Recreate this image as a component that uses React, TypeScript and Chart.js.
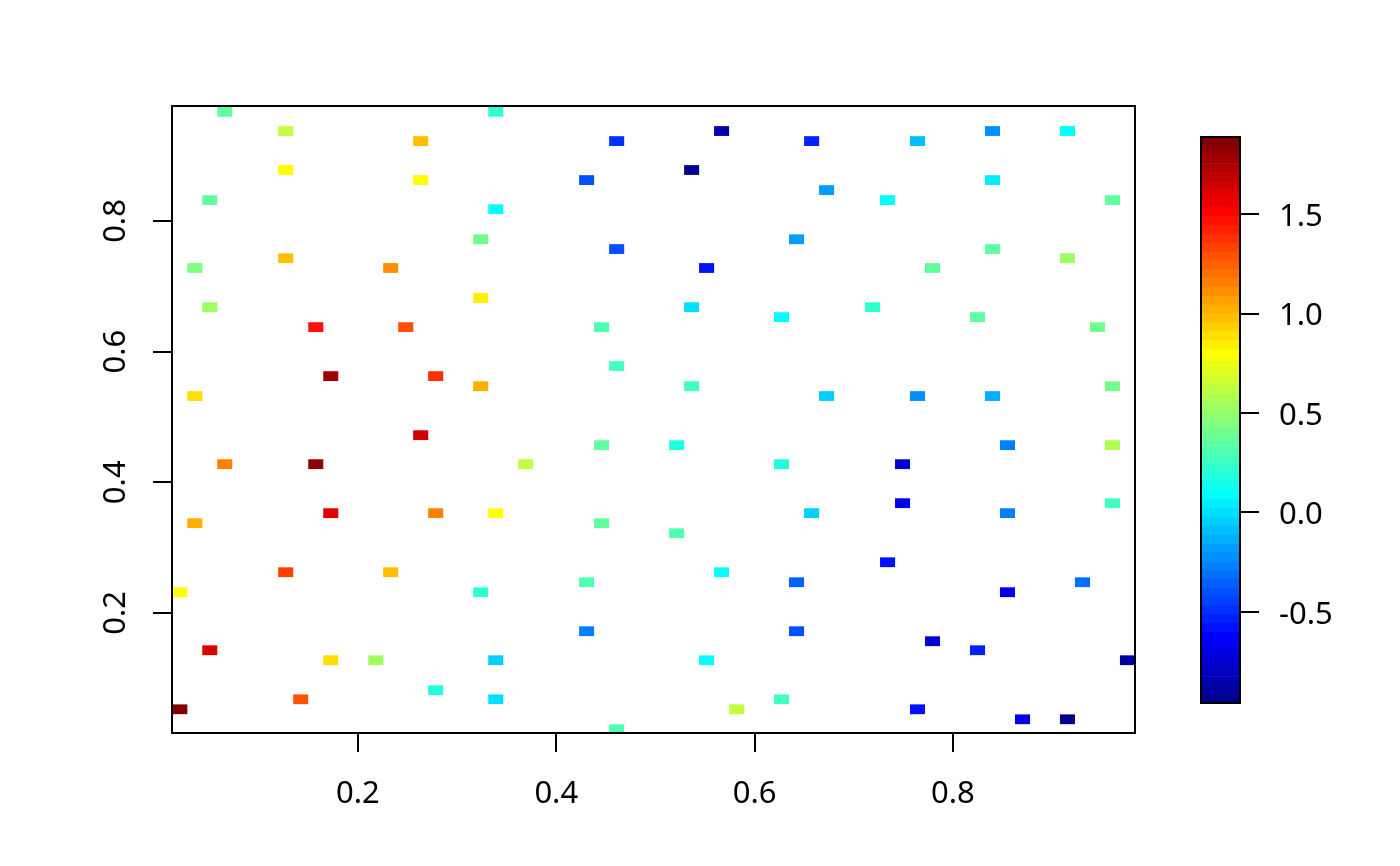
import { useEffect, useRef } from "react"
import { Chart, registerables } from "chart.js"

Chart.register(...registerables)

// grid-cell centres (64 x 64 quilt grid)
const xs = [
  0.0657, 0.1272, 0.2633, 0.1272, 0.2633, 0.0506, 0.339, 0.3238, 0.1272, 0.0355,
  0.233, 0.3238, 0.0506, 0.1575, 0.2482, 0.1726, 0.2784, 0.3238, 0.0355,
  0.339, 0.5667, 0.4609, 0.6575, 0.5365, 0.4306, 0.6423, 0.4609, 0.5516, 0.5365,
  0.6272, 0.4457, 0.4609, 0.5365,
  0.8399, 0.9155, 0.7643, 0.8399, 0.6726, 0.7341, 0.9609, 0.8399, 0.9155, 0.7794,
  0.719, 0.8248, 0.9458, 0.9609, 0.6726, 0.7643, 0.8399,
  0.2633, 0.0657, 0.1575, 0.1726, 0.2784, 0.339, 0.0355, 0.1272, 0.233, 0.0204,
  0.3238, 0.0506, 0.1726, 0.218, 0.339, 0.2784, 0.1423, 0.339, 0.0204,
  0.4457, 0.5214, 0.3692, 0.6272, 0.6575, 0.4457, 0.5214, 0.5667, 0.4306, 0.6423,
  0.4306, 0.6423, 0.5516, 0.6272, 0.5819, 0.4609,
  0.855, 0.9609, 0.7492, 0.7492, 0.9609, 0.855, 0.7341, 0.9307, 0.855, 0.7794,
  0.8248, 0.976, 0.7643, 0.8702, 0.9155,
]

const ys = [
  0.967, 0.9377, 0.9223, 0.878, 0.8626, 0.832, 0.818, 0.772, 0.743, 0.728,
  0.728, 0.682, 0.668, 0.6375, 0.6375, 0.5625, 0.5625, 0.547, 0.532,
  0.967, 0.9377, 0.9223, 0.9223, 0.878, 0.8626, 0.772, 0.757, 0.728, 0.668,
  0.6528, 0.6375, 0.578, 0.547,
  0.9377, 0.9377, 0.9223, 0.8626, 0.8473, 0.832, 0.832, 0.757, 0.743, 0.728,
  0.668, 0.6528, 0.6375, 0.547, 0.532, 0.532, 0.532,
  0.4721, 0.4277, 0.4277, 0.3527, 0.3527, 0.3527, 0.3374, 0.2623, 0.2623, 0.2317,
  0.2317, 0.1429, 0.1276, 0.1276, 0.1276, 0.0816, 0.0678, 0.0678, 0.0525,
  0.4568, 0.4568, 0.4277, 0.4277, 0.3527, 0.3374, 0.322, 0.2623, 0.247, 0.247,
  0.172, 0.172, 0.1276, 0.0678, 0.0525, 0.0219,
  0.4568, 0.4568, 0.4277, 0.368, 0.368, 0.3527, 0.2776, 0.247, 0.2317, 0.1567,
  0.1429, 0.1276, 0.0525, 0.0372, 0.0372,
]

const zs = [
  0.35, 0.62, 0.98, 0.8, 0.8, 0.35, 0.09, 0.4, 0.98, 0.44,
  1.11, 0.84, 0.53, 1.47, 1.29, 1.78, 1.38, 1.02, 0.89,
  0.22, -0.85, -0.49, -0.54, -0.958, -0.4, -0.18, -0.4, -0.58, 0.0,
  0.09, 0.31, 0.26, 0.26,
  -0.22, 0.09, -0.09, 0.04, -0.18, 0.09, 0.35, 0.35, 0.53, 0.35,
  0.22, 0.35, 0.4, 0.4, -0.05, -0.22, -0.14,
  1.64, 1.15, 1.82, 1.6, 1.15, 0.8, 1.02, 1.33, 0.98, 0.8,
  0.22, 1.6, 0.89, 0.53, -0.05, 0.18, 1.29, 0.0, 1.888,
  0.35, 0.18, 0.62, 0.18, -0.05, 0.35, 0.31, 0.09, 0.31, -0.36,
  -0.27, -0.4, 0.09, 0.26, 0.62, 0.31,
  -0.27, 0.58, -0.76, -0.67, 0.26, -0.27, -0.58, -0.31, -0.67, -0.76,
  -0.54, -0.89, -0.58, -0.67, -0.93,
]

const xTicks = [0.2, 0.4, 0.6, 0.8]
const yTicks = [0.2, 0.4, 0.6, 0.8]
const barTicks = [-0.5, 0, 0.5, 1, 1.5]

const timColors = [
  "#00008F", "#00009F", "#0000AF", "#0000BF", "#0000CF", "#0000DF", "#0000EF", "#0000FF",
  "#0010FF", "#0020FF", "#0030FF", "#0040FF", "#0050FF", "#0060FF", "#0070FF", "#0080FF",
  "#008FFF", "#009FFF", "#00AFFF", "#00BFFF", "#00CFFF", "#00DFFF", "#00EFFF", "#00FFFF",
  "#10FFEF", "#20FFDF", "#30FFCF", "#40FFBF", "#50FFAF", "#60FF9F", "#70FF8F", "#80FF80",
  "#8FFF70", "#9FFF60", "#AFFF50", "#BFFF40", "#CFFF30", "#DFFF20", "#EFFF10", "#FFFF00",
  "#FFEF00", "#FFDF00", "#FFCF00", "#FFBF00", "#FFAF00", "#FF9F00", "#FF8F00", "#FF8000",
  "#FF7000", "#FF6000", "#FF5000", "#FF4000", "#FF3000", "#FF2000", "#FF1000", "#FF0000",
  "#EF0000", "#DF0000", "#CF0000", "#BF0000", "#AF0000", "#9F0000", "#8F0000", "#800000",
]

const X_MIN = 0.0125
const X_MAX = 0.9836
const Y_MIN = 0.0162
const Y_MAX = 0.976
const CELL_W = (X_MAX - X_MIN) / 64
const CELL_H = (Y_MAX - Y_MIN) / 64

const Z_MIN = Math.min(...zs)
const Z_MAX = Math.max(...zs)

const FONT = { family: "'Noto Sans', sans-serif", size: 31 }

function colorFor(z: number) {
  const i = Math.floor(((z - Z_MIN) / (Z_MAX - Z_MIN)) * timColors.length)
  return timColors[Math.max(0, Math.min(timColors.length - 1, i))]
}

const quiltPlugin = {
  id: "quilt",
  afterDatasetsDraw(chart: any) {
    const { ctx, chartArea, scales } = chart
    const w = Math.abs(scales.x.getPixelForValue(X_MIN + CELL_W) - scales.x.getPixelForValue(X_MIN))
    const h = Math.abs(scales.y.getPixelForValue(Y_MIN + CELL_H) - scales.y.getPixelForValue(Y_MIN))
    const meta = chart.getDatasetMeta(0)
    ctx.save()
    ctx.beginPath()
    ctx.rect(chartArea.left, chartArea.top, chartArea.right - chartArea.left, chartArea.bottom - chartArea.top)
    ctx.clip()
    meta.data.forEach((pt: any, i: number) => {
      ctx.fillStyle = colorFor(zs[i])
      ctx.fillRect(pt.x - w / 2, pt.y - h / 2, w, h)
    })
    ctx.restore()
  },
  afterDraw(chart: any) {
    const { ctx, chartArea, scales } = chart
    ctx.save()
    ctx.strokeStyle = "#000"
    ctx.lineWidth = 2
    ctx.strokeRect(chartArea.left, chartArea.top, chartArea.right - chartArea.left, chartArea.bottom - chartArea.top)
    // R-style y labels, rotated to read upwards
    ctx.fillStyle = "#000"
    ctx.font = `${FONT.size}px ${FONT.family}`
    ctx.textAlign = "center"
    ctx.textBaseline = "middle"
    scales.y.ticks.forEach((t: any) => {
      const py = scales.y.getPixelForValue(t.value)
      ctx.save()
      ctx.translate(116, py)
      ctx.rotate(-Math.PI / 2)
      ctx.fillText(t.value.toFixed(1), 0, 0)
      ctx.restore()
    })
    ctx.restore()
  },
}

const boxPlugin = {
  id: "box",
  afterDraw(chart: any) {
    const { ctx, chartArea } = chart
    ctx.save()
    ctx.strokeStyle = "#000"
    ctx.lineWidth = 2
    ctx.strokeRect(chartArea.left, chartArea.top, chartArea.right - chartArea.left, chartArea.bottom - chartArea.top)
    ctx.restore()
  },
}

export default function App() {
  const plotRef = useRef<HTMLCanvasElement>(null)
  const barRef = useRef<HTMLCanvasElement>(null)

  useEffect(() => {
    if (!plotRef.current || !barRef.current) return

    const plot = new Chart(plotRef.current, {
      type: "scatter",
      data: {
        datasets: [
          {
            data: xs.map((x, i) => ({ x, y: ys[i] })),
            pointRadius: 0,
            pointHoverRadius: 0,
          },
        ],
      },
      options: {
        animation: false,
        responsive: false,
        devicePixelRatio: 1,
        events: [],
        layout: { padding: { left: 0, top: 106, right: 265, bottom: 0 } },
        plugins: { legend: { display: false }, tooltip: { enabled: false } },
        scales: {
          x: {
            type: "linear",
            min: X_MIN,
            max: X_MAX,
            afterBuildTicks: (s: any) => {
              s.ticks = xTicks.map((v) => ({ value: v }))
            },
            afterFit: (s: any) => {
              s.height = 133
            },
            ticks: {
              font: FONT,
              color: "#000",
              padding: 24,
              maxRotation: 0,
              callback: (v: any) => Number(v).toFixed(1),
            },
            grid: { drawOnChartArea: false, tickLength: 19, lineWidth: 2, color: "#000" },
            border: { display: true, color: "#000", width: 2 },
          },
          y: {
            type: "linear",
            min: Y_MIN,
            max: Y_MAX,
            afterBuildTicks: (s: any) => {
              s.ticks = yTicks.map((v) => ({ value: v }))
            },
            afterFit: (s: any) => {
              s.width = 172
            },
            ticks: { display: false },
            grid: { drawOnChartArea: false, tickLength: 19, lineWidth: 2, color: "#000" },
            border: { display: true, color: "#000", width: 2 },
          },
        },
      },
      plugins: [quiltPlugin],
    })

    const nBins = timColors.length
    const binW = (Z_MAX - Z_MIN) / nBins
    const bar = new Chart(barRef.current, {
      type: "bar",
      data: {
        labels: [""],
        datasets: timColors.map((c, i) => ({
          data: [[Z_MIN + i * binW, Z_MIN + (i + 1) * binW]] as any,
          backgroundColor: c,
          borderWidth: 0,
          barPercentage: 1,
          categoryPercentage: 1,
          grouped: false,
        })),
      },
      options: {
        animation: false,
        responsive: false,
        devicePixelRatio: 1,
        events: [],
        layout: { padding: { left: 1201, top: 137, right: 0, bottom: 163 } },
        plugins: { legend: { display: false }, tooltip: { enabled: false } },
        scales: {
          x: { display: false },
          y: {
            position: "right",
            min: Z_MIN,
            max: Z_MAX,
            afterBuildTicks: (s: any) => {
              s.ticks = barTicks.map((v) => ({ value: v }))
            },
            afterFit: (s: any) => {
              s.width = 160
            },
            ticks: {
              font: FONT,
              color: "#000",
              padding: 20,
              labelOffset: 3,
              callback: (v: any) => Number(v).toFixed(1),
            },
            grid: { drawOnChartArea: false, tickLength: 19, lineWidth: 2, color: "#000" },
            border: { display: true, color: "#000", width: 2 },
          },
        },
      },
      plugins: [boxPlugin],
    })

    return () => {
      plot.destroy()
      bar.destroy()
    }
  }, [])

  return (
    <div style={{ position: "absolute", left: 0, top: 0, width: 1400, height: 866, background: "#fff" }}>
      <canvas ref={plotRef} width={1400} height={866} style={{ position: "absolute", left: 0, top: 0 }} />
      <canvas ref={barRef} width={1400} height={866} style={{ position: "absolute", left: 0, top: 0 }} />
    </div>
  )
}
